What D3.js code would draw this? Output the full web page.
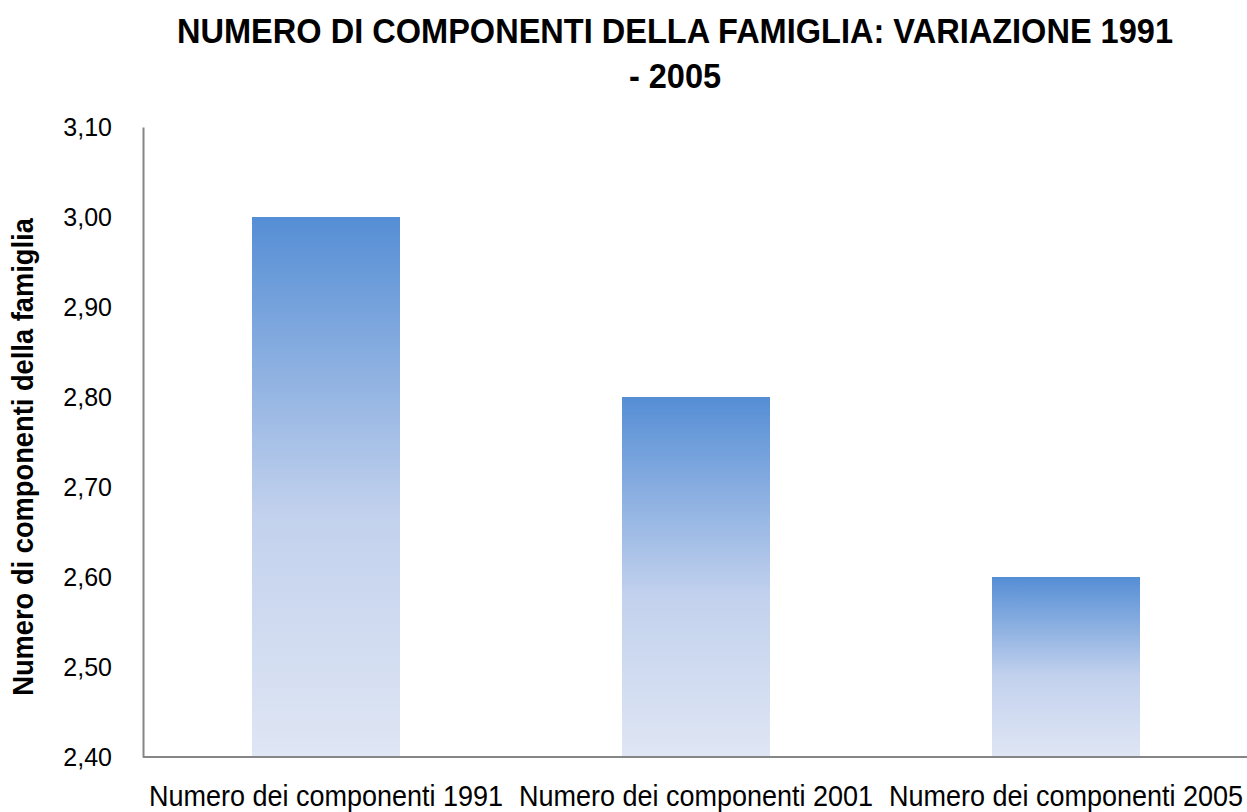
<!DOCTYPE html>
<html><head><meta charset="utf-8">
<script src="https://cdn.jsdelivr.net/npm/d3@7"></script>
<style>body{margin:0;background:#fff}</style>
</head><body>
<svg id="c" width="1247" height="812"></svg>
<script>
const categories = ["Numero dei componenti 1991","Numero dei componenti 2001","Numero dei componenti 2005"];
const values = [3.00, 2.80, 2.60];
const yTicks = [2.40,2.50,2.60,2.70,2.80,2.90,3.00,3.10];
const titleLines = ["NUMERO DI COMPONENTI DELLA FAMIGLIA: VARIAZIONE 1991","- 2005"];
const yLabel = "Numero di componenti della famiglia";

const font = "'Liberation Sans Narrow','Arial Narrow','Liberation Sans',Arial,sans-serif";
const svg = d3.select("#c");
const mLeft = 143, mRight = 1253, mTop = 127, mBottom = 757;

const x = d3.scaleBand().domain(categories).range([mLeft - 2, mRight - 2]).paddingInner(0.6).paddingOuter(0.3);
const y = d3.scaleLinear().domain([2.4, 3.1]).range([mBottom, mTop]);

const defs = svg.append("defs");
const g = defs.append("linearGradient").attr("id","grad").attr("x1",0).attr("y1",0).attr("x2",0).attr("y2",1);
g.append("stop").attr("offset","0%").attr("stop-color","#558ed5");
g.append("stop").attr("offset","55%").attr("stop-color","#c2d1ed");
g.append("stop").attr("offset","100%").attr("stop-color","#dfe6f4");

svg.selectAll("rect.bar").data(values).enter().append("rect")
  .attr("class","bar")
  .attr("x",(d,i)=>x(categories[i]))
  .attr("width",x.bandwidth())
  .attr("y",d=>y(d))
  .attr("height",d=>mBottom-y(d))
  .attr("fill","url(#grad)");

// y axis
const ya = svg.append("g").attr("transform",`translate(${mLeft},0)`)
  .call(d3.axisLeft(y).tickValues(yTicks).tickSize(0).tickPadding(31).tickFormat(d=>d3.format(".2f")(d).replace(".",",")));
ya.select(".domain").attr("stroke","#868686").attr("stroke-width",2);
ya.selectAll("text").attr("font-family",font).attr("font-size",25).attr("fill","#000");

// x axis
const xa = svg.append("g").attr("transform",`translate(0,${mBottom})`)
  .call(d3.axisBottom(x).tickSize(0).tickPadding(28));
xa.select(".domain").attr("stroke","#868686").attr("stroke-width",2).attr("d",`M${mLeft},0H1247`);
xa.selectAll("text").attr("font-family",font).attr("font-size",30).attr("fill","#000")
  .attr("transform","scale(0.9,1)");

// title
const tg = svg.append("g").attr("transform","translate(675,0) scale(0.93,1)");
tg.selectAll("text").data(titleLines).enter().append("text")
  .attr("x",0).attr("y",(d,i)=>43+i*45)
  .attr("text-anchor","middle").attr("font-family",font).attr("font-weight","bold").attr("font-size",35)
  .text(d=>d);

// y label
svg.append("text").attr("transform","translate(33,457) rotate(-90) scale(0.91,1)")
  .attr("text-anchor","middle").attr("font-family",font).attr("font-weight","bold").attr("font-size",30)
  .text(yLabel);
</script>
</body></html>
